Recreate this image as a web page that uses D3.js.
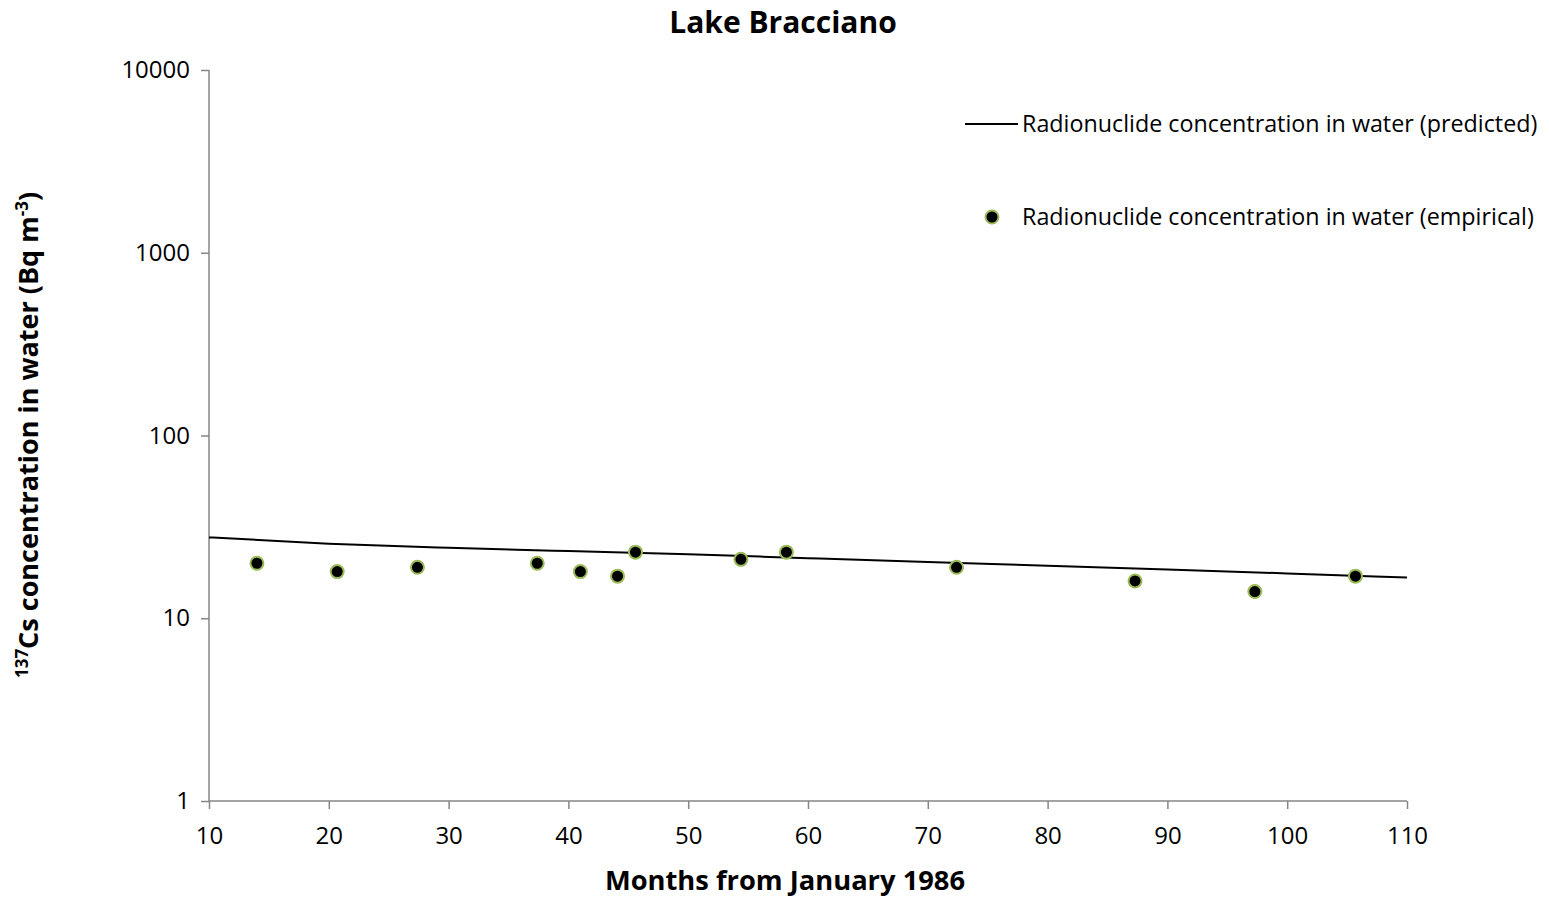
<!DOCTYPE html>
<html><head><meta charset="utf-8">
<script src="https://cdn.jsdelivr.net/npm/d3@7"></script>
<style>body{margin:0;background:#fff}svg{display:block}text{font-family:"Open Sans",Lato,sans-serif}</style>
</head><body>
<svg id="c" width="1549" height="900"></svg>
<script>
const empMonths = [14.0, 20.7, 27.4, 37.4, 41.0, 44.1, 45.6, 54.4, 58.2, 72.4, 87.3, 97.3, 105.7];
const empValues = [20, 18, 19, 20, 18, 17, 23, 21, 23, 19, 16, 14, 17];
const predMonths = [10, 20, 30, 40, 50, 60, 70, 80, 90, 100, 110];
const predValues = [27.7, 25.6, 24.3, 23.3, 22.4, 21.3, 20.3, 19.4, 18.5, 17.6, 16.7];
const xTicks = [10, 20, 30, 40, 50, 60, 70, 80, 90, 100, 110];
const yTicks = [1, 10, 100, 1000, 10000];

const svg = d3.select("#c");
const x = d3.scaleLinear().domain([10, 110]).range([209, 1407]);
const y = d3.scaleLog().domain([1, 10000]).range([801, 70]);
const axisColor = "#868686";

const gx = svg.append("g").attr("transform", "translate(0,801)")
  .call(d3.axisBottom(x).tickValues(xTicks).tickSize(8).tickPadding(18).tickFormat(d3.format("d")));
const gy = svg.append("g").attr("transform", "translate(209,0)")
  .call(d3.axisLeft(y).tickValues(yTicks).tickSize(8).tickPadding(11).tickFormat(d3.format("d")));
[gx, gy].forEach(g => {
  g.attr("font-size", null).attr("font-family", null);
  g.select(".domain").attr("stroke", axisColor).attr("stroke-width", 1.5);
  g.selectAll(".tick line").attr("stroke", axisColor).attr("stroke-width", 1.5);
  g.selectAll(".tick text").attr("fill", "#000").style("font-size", "24px");
});
gx.select(".domain").attr("d", "M209,0H1407");
gy.select(".domain").attr("d", "M0,70V801");

const line = d3.line().x((d, i) => x(predMonths[i])).y(d => y(d)).curve(d3.curveMonotoneX);
svg.append("path").datum(predValues).attr("d", line).attr("fill", "none").attr("stroke", "#000").attr("stroke-width", 2);

svg.append("g").selectAll("circle").data(empValues).join("circle")
  .attr("cx", (d, i) => x(empMonths[i])).attr("cy", d => y(d)).attr("r", 6.5)
  .attr("fill", "#000").attr("stroke", "#9BBB59").attr("stroke-width", 2);

svg.append("text").attr("x", 783).attr("y", 33).attr("text-anchor", "middle")
  .style("font-size", "30px").style("font-weight", "bold").text("Lake Bracciano");

svg.append("text").attr("x", 785).attr("y", 890).attr("text-anchor", "middle")
  .style("font-size", "27.3px").style("font-weight", "bold").text("Months from January 1986");

const yl = svg.append("text").attr("transform", "translate(38,435) rotate(-90)").attr("text-anchor", "middle")
  .style("font-size", "27px").style("font-weight", "bold");
yl.append("tspan").attr("dy", "-10").style("font-size", "17px").text("137");
yl.append("tspan").attr("dy", "10").text("Cs concentration in water (Bq m");
yl.append("tspan").attr("dy", "-10").style("font-size", "17px").text("-3");
yl.append("tspan").attr("dy", "10").text(")");

const lg = svg.append("g");
lg.append("line").attr("x1", 965).attr("x2", 1018).attr("y1", 124).attr("y2", 124).attr("stroke", "#000").attr("stroke-width", 2);
lg.append("text").attr("x", 1022).attr("y", 132).style("font-size", "23.3px").text("Radionuclide concentration in water (predicted)");
lg.append("circle").attr("cx", 992).attr("cy", 217).attr("r", 6.5).attr("fill", "#000").attr("stroke", "#9BBB59").attr("stroke-width", 2);
lg.append("text").attr("x", 1022).attr("y", 225).style("font-size", "23.3px").text("Radionuclide concentration in water (empirical)");
</script>
</body></html>
